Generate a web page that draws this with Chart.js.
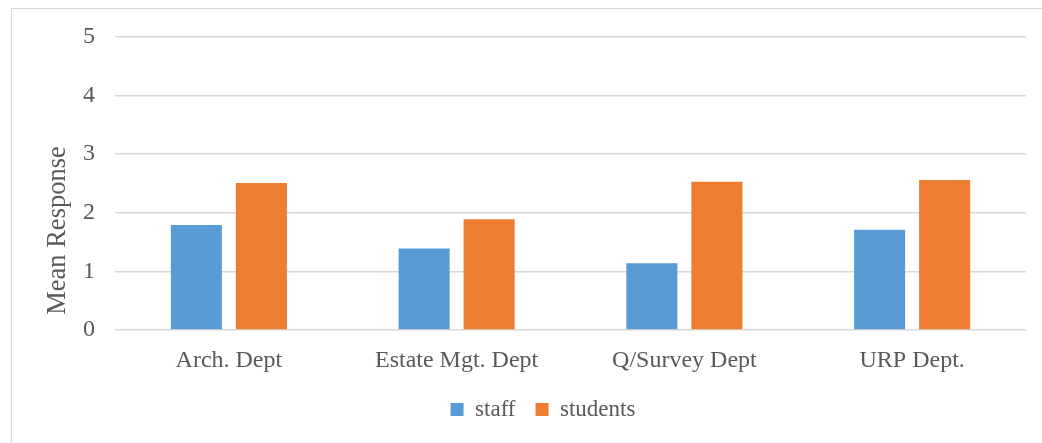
<!DOCTYPE html>
<html>
<head>
<meta charset="utf-8">
<script src="https://cdn.jsdelivr.net/npm/chart.js@4"></script>
<style>
  html, body { margin: 0; padding: 0; background: #fff; }
  #wrap { position: relative; width: 1042px; height: 443px; }
  #frame { position: absolute; left: 11px; top: 8px; right: 0; bottom: 0;
           border-left: 1.5px solid #d9d9d9; border-top: 1.5px solid #d9d9d9; }
  canvas { position: absolute; left: 0; top: 0; }
</style>
</head>
<body>
<div id="wrap">
  <div id="frame"></div>
  <canvas id="chart" width="1042" height="443"></canvas>
</div>
<script>
// departments and mean responses
const departments = ['Arch. Dept', 'Estate Mgt. Dept', 'Q/Survey Dept', 'URP Dept.'];
const staff = [1.79, 1.39, 1.14, 1.71];
const students = [2.51, 1.89, 2.53, 2.56];
const yTicks = [0, 1, 2, 3, 4, 5];
const yTitle = 'Mean Response';

const textColor = '#595959';
const serif = "'Liberation Serif', 'Times New Roman', serif";

const ctx = document.getElementById('chart');
Chart.defaults.font.family = serif;
Chart.defaults.color = textColor;

// nudge the legend a little to the right of the canvas centre
const legendShift = {
  id: 'legendShift',
  afterLayout(chart) {
    const lg = chart.legend;
    if (lg) { lg.left += 30; lg.right += 30; }
  }
};

// y axis title, centred lower than the plot, over the category labels too
const yTitlePlugin = {
  id: 'yTitlePlugin',
  afterDraw(chart) {
    const x = chart.scales.x;
    const c = chart.ctx;
    const cy = (chart.chartArea.top + x.bottom + 46) / 2;
    c.save();
    c.translate(58, cy);
    c.rotate(-Math.PI / 2);
    c.font = "26.5px " + serif;
    c.fillStyle = textColor;
    c.textAlign = 'center';
    c.textBaseline = 'middle';
    c.fillText(yTitle, 0, 0);
    c.restore();
  }
};

const chart = new Chart(ctx, {
  type: 'bar',
  data: {
    labels: departments,
    datasets: [
      { label: 'staff', data: staff, backgroundColor: '#5b9bd5' },
      { label: 'students', data: students, backgroundColor: '#ed7d31' }
    ]
  },
  options: {
    responsive: false,
    animation: false,
    layout: { padding: { top: 37, right: 16, bottom: 12, left: 0 } },
    datasets: {
      bar: { categoryPercentage: 0.571, barPercentage: 0.785 }
    },
    scales: {
      x: {
        grid: { display: false, drawTicks: false },
        border: { display: false },
        ticks: { font: { size: 24 }, padding: 16, color: textColor },
        afterFit: s => { s.height = 48; }
      },
      y: {
        min: 0,
        max: 5,
        afterBuildTicks: s => { s.ticks = yTicks.map(v => ({ value: v })); },
        grid: { color: '#d9d9d9', lineWidth: 1.5, drawTicks: false },
        border: { display: false },
        ticks: { font: { size: 24 }, padding: 20, color: textColor },
        afterFit: s => { s.width = 115; }
      }
    },
    plugins: {
      legend: {
        position: 'bottom',
        labels: {
          boxWidth: 13,
          boxHeight: 13,
          padding: 20,
          font: { size: 23 },
          color: textColor
        }
      },
      tooltip: { enabled: false }
    }
  },
  plugins: [legendShift, yTitlePlugin]
});
</script>
</body>
</html>
